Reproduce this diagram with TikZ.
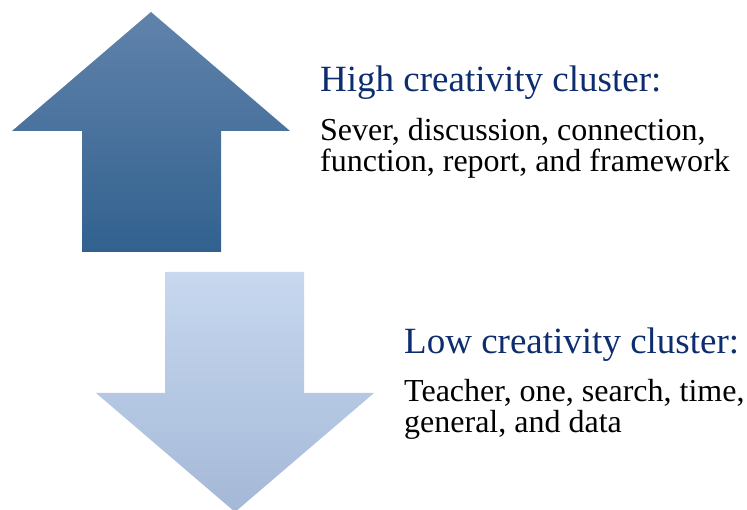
\documentclass[tikz,border=0pt]{standalone}
\usepackage{fontspec}
\setmainfont{Liberation Serif}
\begin{document}
\begin{tikzpicture}[x=1pt,y=-1pt,
  headtext/.style={anchor=base west,inner sep=0pt,text=headblue,font=\fontsize{37}{37}\selectfont},
  bodytext/.style={anchor=north west,inner sep=0pt,align=left,font=\fontsize{32}{31}\selectfont}]
\definecolor{headblue}{HTML}{0E2D6E}
\definecolor{uptop}{HTML}{6083AB}
\definecolor{upbot}{HTML}{32618F}
\definecolor{downtop}{HTML}{C7D8EF}
\definecolor{downbot}{HTML}{A4B8D7}
\useasboundingbox (0,0) rectangle (747,510);
% upward block arrow
\shade[top color=uptop,bottom color=upbot]
  (151,12) -- (290,131) -- (221,131) -- (221,252) -- (82,252) -- (82,131) -- (12,131) -- cycle;
% downward block arrow
\shade[top color=downtop,bottom color=downbot]
  (165,272) -- (304,272) -- (304,393) -- (374,393) -- (235,512) -- (96,393) -- (165,393) -- cycle;
% labels
\node[headtext] (hihead) at (320,92) {High creativity cluster:};
\node[bodytext] (hibody) at (320,118) {Sever, discussion, connection,\\function, report, and framework};
\node[headtext] (lohead) at (404,354) {Low creativity cluster:};
\node[bodytext] (lobody) at (404,379) {Teacher, one, search, time,\\general, and data};
\end{tikzpicture}
\end{document}
